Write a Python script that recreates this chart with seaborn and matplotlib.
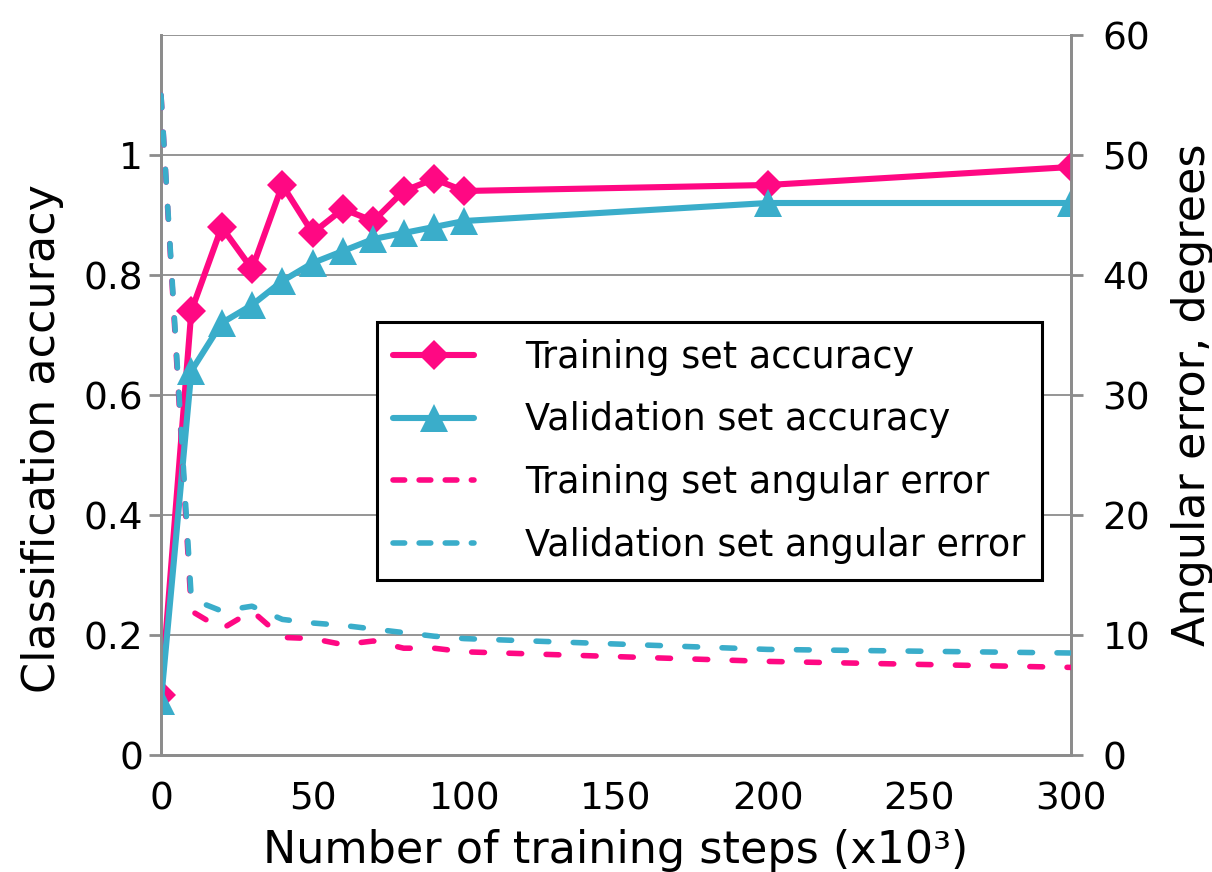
import matplotlib
matplotlib.use("Agg")
import matplotlib.pyplot as plt
import seaborn as sns
import pandas as pd

# ---- data ----
steps = [0, 10, 20, 30, 40, 50, 60, 70, 80, 90, 100, 200, 300]
train_acc = [0.10, 0.74, 0.88, 0.81, 0.95, 0.87, 0.91, 0.89, 0.94, 0.96, 0.94, 0.95, 0.98]
val_acc = [0.09, 0.64, 0.72, 0.75, 0.79, 0.82, 0.84, 0.86, 0.87, 0.88, 0.89, 0.92, 0.92]
train_err = [55, 12.0, 10.5, 12.0, 9.8, 9.7, 9.2, 9.5, 8.9, 8.9, 8.6, 7.8, 7.3]
val_err = [55, 13.0, 12.0, 12.4, 11.3, 11.0, 10.8, 10.5, 10.2, 9.9, 9.7, 8.8, 8.5]

left_ticks = [0, 0.2, 0.4, 0.6, 0.8, 1.0]
left_labels = ["0", "0.2", "0.4", "0.6", "0.8", "1"]
right_ticks = [0, 10, 20, 30, 40, 50, 60]
x_ticks = [0, 50, 100, 150, 200, 250, 300]

labels = ["Training set accuracy", "Validation set accuracy",
          "Training set angular error", "Validation set angular error"]

PINK = "#FF0883"
BLUE = "#3AADCA"
GRID = "#8C8C8C"

sns.set_style("white")
plt.rcParams["font.family"] = ["DejaVu Sans"]
plt.rcParams["text.color"] = "black"
plt.rcParams["axes.labelcolor"] = "black"
plt.rcParams["xtick.color"] = "black"
plt.rcParams["ytick.color"] = "black"

df = pd.DataFrame({"steps": steps, "train_acc": train_acc, "val_acc": val_acc,
                   "train_err": train_err, "val_err": val_err})

fig = plt.figure(figsize=(12.12, 8.72), dpi=100)
ax = fig.add_axes([161 / 1212, 1 - 755 / 872, 910 / 1212, 720 / 872])
ax2 = ax.twinx()

lw_solid = 4.4
lw_dash = 4.0
sns.lineplot(data=df, x="steps", y="train_acc", ax=ax, color=PINK, linewidth=lw_solid,
             marker="D", markersize=15, markeredgewidth=0, label=labels[0], zorder=4)
sns.lineplot(data=df, x="steps", y="val_acc", ax=ax, color=BLUE, linewidth=lw_solid,
             marker="^", markersize=20, markeredgewidth=0, label=labels[1], zorder=4)
sns.lineplot(data=df, x="steps", y="train_err", ax=ax2, color=PINK, linewidth=lw_dash,
             dashes=False, label=labels[2], zorder=3)
sns.lineplot(data=df, x="steps", y="val_err", ax=ax2, color=BLUE, linewidth=lw_dash,
             dashes=False, label=labels[3], zorder=3)
for ln in ax2.get_lines():
    ln.set_dashes((2.3, 4.4))
    ln.set_dash_capstyle("round")
for ln in ax.get_lines():
    ln.set_solid_capstyle("round")

ax.set_xlim(0, 300)
ax.set_ylim(0, 1.2)
ax2.set_ylim(0, 60)
ax.set_xticks(x_ticks)
ax.set_yticks(left_ticks)
ax.set_yticklabels(left_labels)
ax2.set_yticks(right_ticks)

# gridlines
for v in [0.2, 0.4, 0.6, 0.8, 1.0, 1.2]:
    ax.axhline(v, color=GRID, linewidth=1.3, zorder=0)

for a in (ax, ax2):
    for s in a.spines.values():
        s.set_color(GRID)
        s.set_linewidth(2.0)
    a.spines["top"].set_visible(False)
ax.tick_params(axis="y", direction="out", length=8.6, width=2.0, color=GRID,
               labelsize=27, pad=4.3, labelcolor="black")
ax.tick_params(axis="x", direction="out", length=11, width=2.0, color=GRID,
               labelsize=27, pad=8, labelcolor="black")
ax2.tick_params(axis="y", direction="out", length=8.6, width=2.0, color=GRID,
                labelsize=27, pad=14, labelcolor="black")

ax.set_xlabel("Number of training steps (x10³)", fontsize=32, labelpad=8)
ax.set_ylabel("Classification accuracy", fontsize=32)
ax2.set_ylabel("Angular error, degrees", fontsize=32)
ax.yaxis.set_label_coords(-0.1066, 0.44)
ax2.yaxis.set_label_coords(1.110, 0.5)

h1, l1 = ax.get_legend_handles_labels()
h2, l2 = ax2.get_legend_handles_labels()
ax.get_legend().remove()
leg = ax2.legend(h1 + h2, l1 + l2, loc="upper left", bbox_to_anchor=(0.237, 0.601),
                 fontsize=26.4, frameon=True, fancybox=False, framealpha=1,
                 edgecolor="black", handlelength=2.2, handletextpad=1.4,
                 labelspacing=0.7, borderpad=0.45, borderaxespad=0)
leg.get_frame().set_linewidth(2.2)
leg.set_zorder(10)
for ln in leg.get_lines()[2:]:
    ln.set_dashes((2.1, 2.6))
    ln.set_dash_capstyle("round")

fig.savefig("out.png", dpi=100)
